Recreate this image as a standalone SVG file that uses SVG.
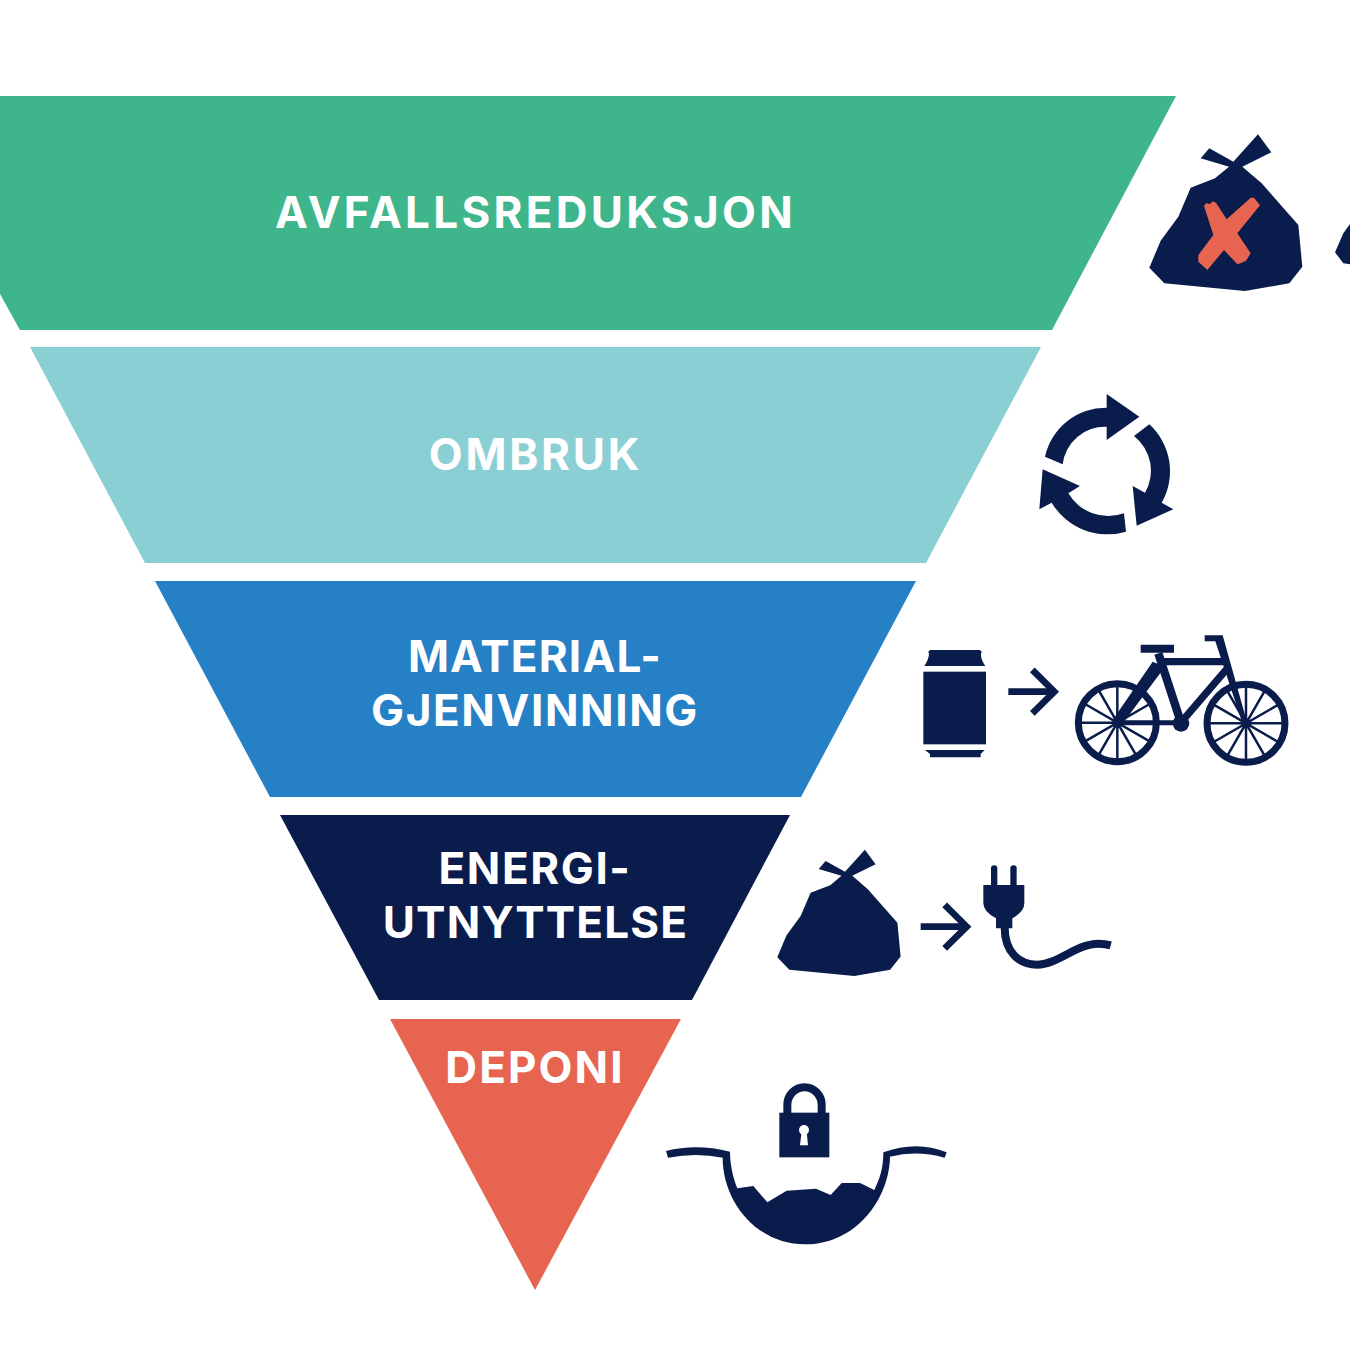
<svg xmlns="http://www.w3.org/2000/svg" width="1350" height="1350" viewBox="0 0 1350 1350">
<style>
.lbl{font-family:Inter,"Liberation Sans",sans-serif;font-weight:700;font-size:44px;letter-spacing:1.6px;fill:#fff;text-anchor:middle}
.n{fill:#0a1c4b}
.s{fill:none;stroke:#0a1c4b}
.x{fill:#e76550}
</style>
<defs>
<path id="bag" d="M212 115L238 85L310 125L384 43L424 97L337 140L395 190L505 315L517 440L478 490L345 513L103 490L58 443L92 362L145 290L182 203L255 175L297 140Z"/>
<g id="arr"><path class="s" stroke-width="20" d="M0 0H140"/><path class="s" stroke-width="20" d="M72 -65L138 0L72 65"/></g>
<g id="wheel">
<circle class="s" r="117" stroke-width="21"/>
<path class="s" stroke-width="7.500" d="M0 -115V115M-115 0H115M-57.500 -99.600L57.500 99.600M57.500 -99.600L-57.500 99.600M-99.600 -57.500L99.600 57.500M99.600 -57.500L-99.600 57.500"/>
<circle class="n" r="14"/>
</g>
</defs>
<rect width="1350" height="1350" fill="#fff"/>
<g id="avfallsreduksjon"><path fill="#3fb58b" d="M0 96H1176L1052 330H20L0 294Z"/><text class="lbl" x="535.500" y="227.500" style="letter-spacing:3.300px">AVFALLSREDUKSJON</text></g>
<g id="ombruk"><path fill="#8acfd4" d="M30 347H1041L926 563H145Z"/><text class="lbl" x="535.500" y="469.500" style="letter-spacing:2.800px">OMBRUK</text></g>
<g id="materialgjenvinning"><path fill="#2580c6" d="M155 581H916L801 797H270Z"/><text class="lbl" x="535" y="671.500" style="letter-spacing:1.200px">MATERIAL-</text><text class="lbl" x="535" y="725.500">GJENVINNING</text></g>
<g id="energiutnyttelse"><path class="n" d="M280 815H790L692 1000H379Z"/><text class="lbl" x="535" y="883.500">ENERGI-</text><text class="lbl" x="535.500" y="937.500" style="letter-spacing:1.200px">UTNYTTELSE</text></g>
<g id="deponi"><path fill="#e76550" d="M390 1019H681L535 1290Z"/><text class="lbl" x="535" y="1082.500" style="letter-spacing:2.100px">DEPONI</text></g>
<g id="icon-bag-x" transform="translate(1130 120) scale(.33333)">
<use href="#bag" class="n"/>
<path class="x" d="M222 258L228 250L240 252L248 244L258 248L290 298L362 233L372 233L390 256L322 340L362 400L348 422L335 428L322 433L282 390L232 450L205 425L205 405L250 345Z"/>
<path class="n" d="M660 312L640 340L615 397L640 430L660 433Z"/>
</g>
<g id="icon-recycle" transform="translate(1020 380) scale(.33333)">
<path class="n" d="M75 230A188 188 0 0 1 260 83L260 42L358 110L260 180L260 140A128 128 0 0 0 128 253Z"/>
<path class="n" d="M388 133A190 190 0 0 1 425 368L460 388L350 437L338 318L375 338A132 132 0 0 0 342 168Z"/>
<path class="n" d="M318 455A195 195 0 0 1 95 368L58 388L68 268L180 318L145 340A140 140 0 0 0 312 400Z"/>
</g>
<g id="icon-can-bike" transform="translate(910 620) scale(.33333)">
<path class="n" d="M57 102L55 95L60 90H210L215 95L213 102Q212 118 226 138H43Q56 118 57 102Z"/>
<rect class="n" x="40" y="155" width="188" height="218"/>
<path class="n" d="M45 390H224L212 402V412H60V402Z"/>
<use href="#arr" transform="translate(295 215)"/>
<use href="#wheel" transform="translate(622 308)"/>
<use href="#wheel" transform="translate(1008 310)"/>
<path class="s" stroke-width="15" d="M622 308H813"/>
<path class="n" d="M728 125L765 140L630 322L608 300Z"/>
<path class="s" stroke-width="25" d="M745 100L813 308"/>
<path class="s" stroke-width="22" d="M750 125H945M952 145L815 305"/>
<circle class="n" cx="813" cy="310" r="25"/>
<path class="n" d="M692 74H792V98H692ZM884 46H938L1012 310L998 312L916 64H884Z"/>
</g>
<g id="icon-bag-plug">
<use href="#bag" class="n" transform="translate(761.700 838.200) scale(.2687)"/>
<g transform="translate(770 840) scale(.33333)">
<use href="#arr" transform="translate(452 260)"/>
<rect class="n" x="663" y="76" width="19" height="70" rx="9"/>
<rect class="n" x="721" y="76" width="19" height="70" rx="9"/>
<path class="n" d="M640 135H763V190Q763 215 727 235V265H678V235Q640 215 640 190Z"/>
<path class="s" stroke-width="24" d="M704 262C704 340 750 374 802 374C862 374 920 311 985 311Q1005 311 1022 316"/>
</g>
</g>
<g id="icon-landfill" transform="translate(660 1075) scale(.33333)">
<path class="s" stroke-width="24" d="M382 115V90A51 53 0 0 1 485 90V115"/>
<rect class="n" x="358" y="113" width="150" height="134"/>
<circle cx="432" cy="165" r="15" fill="#fff"/>
<path fill="#fff" d="M425 170H440L444 211H420Z"/>
<path class="n" d="M18 228Q110 205 210 230C210 270 220 310 232 340L280 333L322 382L380 347L468 341L512 360L545 324L600 324L643 345C660 310 670 280 670 232Q770 195 860 232L854 248Q770 225 690 245C688 370 590 508 435 508C290 508 188 380 188 248Q110 232 24 248Z"/>
</g>
</svg>
